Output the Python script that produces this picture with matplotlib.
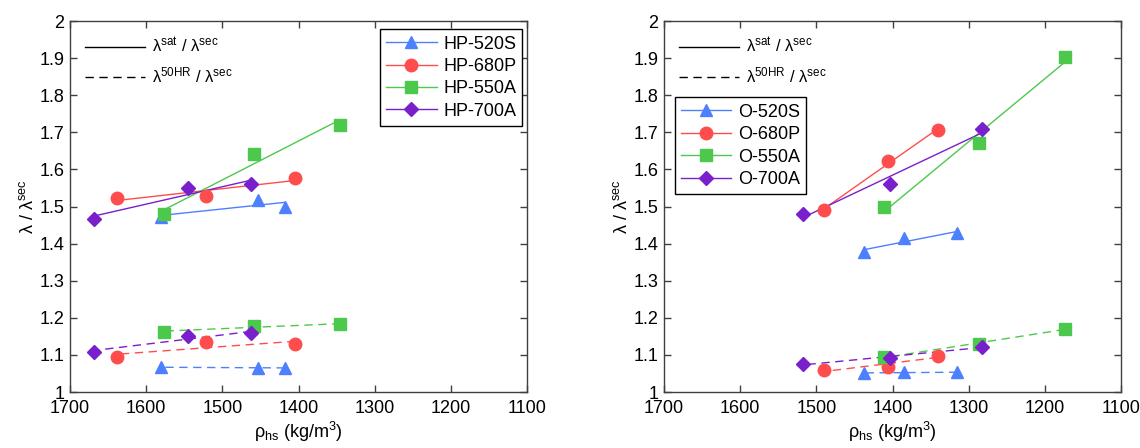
import matplotlib
matplotlib.use("Agg")
import matplotlib.pyplot as plt
from matplotlib.lines import Line2D
import numpy as np

plt.rcParams['font.family'] = ['Liberation Sans', 'DejaVu Sans']
plt.rcParams['mathtext.fontset'] = 'custom'
plt.rcParams['mathtext.rm'] = 'Liberation Sans'
plt.rcParams['mathtext.it'] = 'Liberation Sans'
plt.rcParams['mathtext.default'] = 'regular'

# ---- data (density kg/m3, ratio) ----
hp_names = ['HP-520S', 'HP-680P', 'HP-550A', 'HP-700A']
hp_rho = [[1580, 1453, 1418],
          [1638, 1521, 1404],
          [1576, 1458, 1345],
          [1668, 1545, 1462]]
hp_sat = [[1.473, 1.518, 1.500],
          [1.524, 1.528, 1.578],
          [1.479, 1.642, 1.721],
          [1.467, 1.551, 1.560]]
hp_50 = [[1.067, 1.064, 1.066],
         [1.094, 1.135, 1.129],
         [1.163, 1.177, 1.183],
         [1.109, 1.150, 1.159]]

o_names = ['O-520S', 'O-680P', 'O-550A', 'O-700A']
o_rho = [[1438, 1385, 1315],
         [1490, 1406, 1341],
         [1411, 1286, 1174],
         [1518, 1403, 1283]]
o_sat = [[1.377, 1.416, 1.428],
         [1.491, 1.622, 1.705],
         [1.500, 1.670, 1.904],
         [1.480, 1.562, 1.708]]
o_50 = [[1.051, 1.053, 1.053],
        [1.059, 1.068, 1.098],
        [1.094, 1.130, 1.170],
        [1.075, 1.092, 1.122]]

colors = ['#4d80ff', '#ff4d4d', '#4cc94c', '#7a1fcc']
markers = ['^', 'o', 's', 'D']
msizes = [9, 9, 8.5, 7]

fig = plt.figure(figsize=(11.4, 4.48), dpi=100)
ax1 = fig.add_axes([0.0614, 0.125, 0.4009, 0.828])
ax2 = fig.add_axes([0.5825, 0.125, 0.4009, 0.828])


def draw(ax, names, rho, sat, r50, leg_kw):
    handles = []
    for i in range(len(names)):
        x = np.array(rho[i], float)
        # straight-line fit through each set of three points
        for y, ls in ((sat[i], '-'), (r50[i], (0, (6, 4)))):
            p = np.polyfit(x, y, 1)
            xs = np.array([x.min(), x.max()])
            ax.plot(xs, np.polyval(p, xs), color=colors[i], lw=1, ls=ls, zorder=2)
            ax.plot(x, y, ls='none', marker=markers[i], ms=msizes[i],
                    color=colors[i], mec=colors[i], zorder=3)
        handles.append(Line2D([], [], color=colors[i], lw=1, marker=markers[i],
                              ms=msizes[i], mec=colors[i]))
    ax.set_xlim(1700, 1100)
    ax.set_ylim(1, 2)
    ax.set_xticks(np.arange(1700, 1099, -100))
    ax.set_yticks(np.round(np.arange(1, 2.01, 0.1), 1))
    ax.set_yticklabels(['1', '1.1', '1.2', '1.3', '1.4', '1.5', '1.6', '1.7',
                        '1.8', '1.9', '2'])
    ax.tick_params(direction='in', top=True, right=True, length=5, width=1,
                   labelsize=13, color='#404040', pad=4)
    ax.tick_params(axis='x', pad=6)
    for s in ax.spines.values():
        s.set_color('#404040')
        s.set_linewidth(1)
    ax.set_ylabel(r'$\lambda$ / $\lambda^{sec}$', fontsize=13, labelpad=2)
    ax.set_xlabel(r'$\rho_{hs}$ (kg/m$^3$)', fontsize=13, labelpad=2)

    style = [Line2D([], [], color='black', lw=1, ls='-'),
             Line2D([], [], color='black', lw=1, ls=(0, (6, 4)))]
    leg_s = ax.legend(style, [r'$\lambda^{sat}$ / $\lambda^{sec}$',
                              r'$\lambda^{50HR}$ / $\lambda^{sec}$'],
                      loc='upper left', frameon=False, fontsize=12,
                      handlelength=3.6, handletextpad=0.4,
                      bbox_to_anchor=(0.0, 1.0), labelspacing=0.6)
    ax.add_artist(leg_s)
    leg = ax.legend(handles, names, fontsize=13, fancybox=False,
                    edgecolor='black', framealpha=1, handlelength=2.8,
                    handletextpad=0.35, labelspacing=0.3, borderpad=0.35,
                    borderaxespad=0.0, **leg_kw)
    leg.get_frame().set_linewidth(1)


draw(ax1, hp_names, hp_rho, hp_sat, hp_50,
     dict(loc='upper right', bbox_to_anchor=(0.99, 0.978)))
draw(ax2, o_names, o_rho, o_sat, o_50,
     dict(loc='upper left', bbox_to_anchor=(0.023, 0.794)))

fig.savefig('out.png', dpi=100)
